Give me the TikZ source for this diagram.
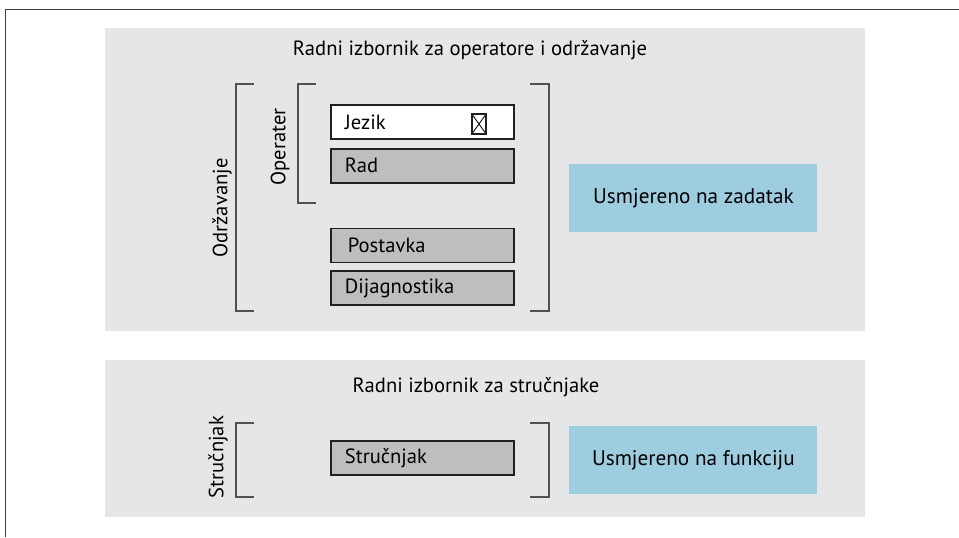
\documentclass[tikz,border=0pt]{standalone}
\usepackage{fontspec}
\setmainfont{PT Sans}
\usetikzlibrary{positioning}
\definecolor{panelgray}{HTML}{E5E6E8}
\definecolor{itemgray}{HTML}{BCBEC0}
\definecolor{taskblue}{HTML}{9FCDE0}
\definecolor{linedark}{HTML}{231F20}
\definecolor{bracketgray}{HTML}{505052}
\definecolor{framegray}{HTML}{404040}

\begin{document}
\begin{tikzpicture}[x=0.5pt, y=-0.5pt, font=\fontsize{10.3}{12}\selectfont,
    panel/.style={fill=panelgray, anchor=north west, inner sep=0pt, minimum width=380pt},
    item/.style={draw=linedark, line width=0.9pt, fill=itemgray, minimum height=17pt, text width=77.5pt, inner xsep=7pt, align=left},
    target/.style={fill=taskblue, anchor=north west, minimum width=124pt, minimum height=34pt, align=center, font=\fontsize{10.6}{12}\selectfont},
    bracket/.style={draw=bracketgray, line width=0.7pt}]
    \useasboundingbox (0,0) rectangle (959,537);
    % Frame
    \draw[framegray, line width=0.9pt] (5.5,537) -- (5.5,9.5) -- (959,9.5);

    % Panels
    \node[panel, minimum height=151.5pt] (upper) at (105,28) {};
    \node[panel, minimum height=78.5pt] (lower) at (105,360) {};

    % Titles
    \node (title1) at (470,50) {Radni izbornik za operatore i održavanje};
    \node (title2) at (476,387) {Radni izbornik za stručnjake};

    % Menu items
    \node[item, fill=white, anchor=north west] (jezik) at (330,104) {Jezik};
    \node[item, below=4pt of jezik] (rad) {Rad};
    \node[item, below=22pt of rad] (postavka) {\hspace{1.5pt}Postavka};
    \node[item, below=3.5pt of postavka] (dijag) {Dijagnostika};
    \node[item, anchor=north west] (strucnjak) at (330,440) {Stručnjak};

    % Check box
    \node[draw=linedark, line width=0.6pt, minimum width=7pt, minimum height=10pt, inner sep=0pt] (chk) at (479,124) {};
    \draw[linedark, line width=0.5pt] (chk.north west) -- (chk.south east) (chk.north east) -- (chk.south west);

    % Brackets
    \draw[bracket] (254,84) -- (236,84) -- (236,311) -- (254,311);
    \draw[bracket] (316,84) -- (298,84) -- (298,203) -- (316,203);
    \draw[bracket] (530,84) -- (549,84) -- (549,311) -- (530,311);
    \draw[bracket] (254,423) -- (236,423) -- (236,497) -- (254,497);
    \draw[bracket] (530,423) -- (549,423) -- (549,497) -- (530,497);

    % Bracket labels
    \node[rotate=90] (odrz) at (222,208) {Održavanje};
    \node[rotate=90] (oper) at (280,147) {Operater};
    \node[rotate=90] (strlab) at (218,457) {Stručnjak};

    % Orientation boxes
    \node[target] (task) at (569,164) {Usmjereno na zadatak};
    \node[target] (func) at (569,426) {Usmjereno na funkciju};
\end{tikzpicture}
\end{document}
